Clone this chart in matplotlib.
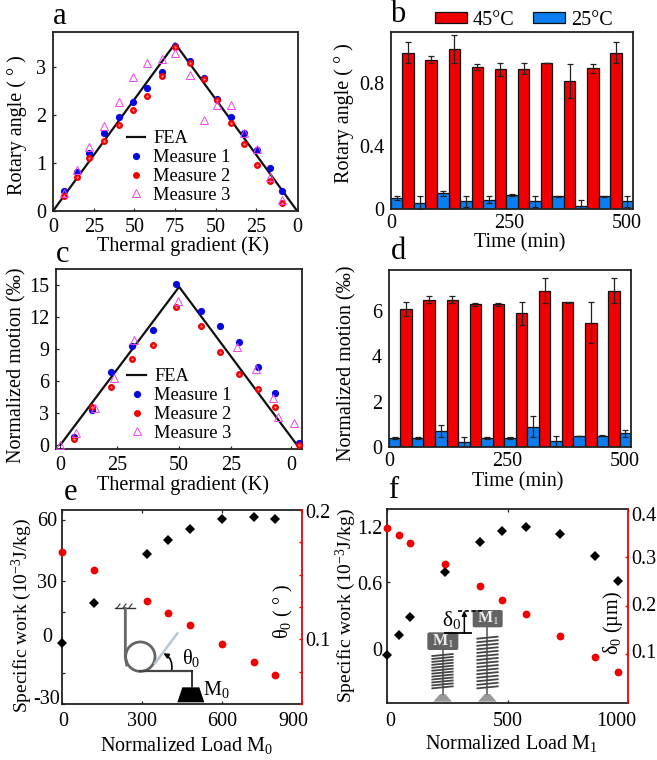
import numpy as np
import matplotlib
matplotlib.use("Agg")
import matplotlib.pyplot as plt
from matplotlib.patches import Polygon, Circle, FancyBboxPatch, FancyArrowPatch

plt.rcParams['font.family'] = ['Liberation Serif', 'DejaVu Serif']
plt.rcParams['mathtext.fontset'] = 'custom'
plt.rcParams['mathtext.rm'] = 'Liberation Serif'
plt.rcParams['mathtext.default'] = 'rm'

W, H = 657, 760
FS = 14.5
FRAME = '#222222'
RED = '#f00000'
BLUE = '#0707e0'
MAG = '#ee44ee'
BAR_BLUE = '#0a7df0'

# ---- panel a
a_fea_x = [0, 75, 150]
a_fea_y = [0, 3.5, 0]
a_x = [6.6, 14.6, 22.4, 31.6, 40.3, 49.3, 57.9, 66.7, 75, 84.1, 92.5, 100.9, 109.3, 117.4, 125.1, 133.1, 140.7]
a_m1 = [.41, .81, 1.21, 1.62, 1.96, 2.28, 2.56, 2.90, 3.45, 3.14, 2.77, 2.34, 1.96, 1.64, 1.28, .89, .41]
a_m2 = [.32, .72, 1.10, 1.47, 1.79, 2.10, 2.41, 2.83, 3.43, 3.10, 2.76, 2.31, 1.83, 1.40, .97, .63, .16]
a_m3 = [.37, .85, 1.33, 1.78, 2.27, 2.80, 3.10, 3.18, 3.31, 2.85, 1.90, 2.22, 2.22, 1.64, 1.29, .71, .23]
a_xticks = [0, 25, 50, 75, 100, 125, 150]
a_xlabels = ['0', '25', '50', '75', '50', '25', '0']

# ---- panels b, d
blue_t = [12, 61, 110, 159, 208, 257, 306, 355, 404, 453, 502]
red_t = [36.5, 85.5, 134.5, 183.5, 232.5, 281.5, 330.5, 379.5, 428.5, 477.5]
b_red = [.99, .945, 1.012, .90, .884, .888, .922, .81, .89, .99]
b_red_err = [.066, .02, .09, .02, .04, .035, 0, .11, .03, .067]
b_blue = [.07, .04, .10, .05, .06, .09, .05, .08, .02, .08, .05]
b_blue_err = [.01, .04, .015, .035, .02, .005, .035, .005, .04, .005, .035]
d_red = [6.1, 6.5, 6.5, 6.3, 6.3, 5.9, 6.9, 6.4, 5.5, 6.9]
d_red_err = [.3, .15, .15, .05, .07, .5, .55, .02, .9, .55]
d_blue = [.4, .4, .7, .2, .4, .4, .9, .25, .5, .5, .6]
d_blue_err = [.03, .03, .25, .25, .03, .03, .45, .22, 0, .02, .15]

# ---- panel c
c_fea_x = [0, 50, 99.6]
c_fea_y = [0, 14.8, 0]
c_x12 = [5.8, 13.5, 21.3, 30.2, 38.9, 48.6, 59.3, 67.3, 75.1, 83, 90.4, 100.6]
c_m1 = [.78, 3.28, 6.81, 9.28, 10.78, 15.09, 12.56, 11.1, 9.66, 7.28, 4.88, .22]
c_m2 = [.56, 3.6, 5.47, 8.06, 9.4, 12.94, 11.09, 8.72, 6.69, 5.28, 3.6, 0]
c_x3 = [0, 6.7, 14.5, 22.5, 31.2, 49.7, 74.3, 82.2, 89.5, 91.4, 98.5]
c_m3 = [0, 1.16, 3.5, 6.3, 9.8, 13.5, 9.2, 7.1, 4.4, 2.6, 2.1]
c_xticks = [0, 24, 50, 72, 97]
c_xlabels = ['0', '25', '50', '25', '0']

# ---- panel e
e_load = [0, 120, 320, 400, 480, 600, 720, 800]
e_work = [0, 19.2, 43.4, 50.2, 55.5, 60.5, 61.7, 60.7]
e_theta = [.1678, .1536, .1299, .1201, .1108, .0966, .0822, .0727]

# ---- panel f
f_load = [0, 48, 94, 239, 383, 477, 574, 716, 860, 956]
f_work = [0, .164, .314, .676, .919, 1.009, 1.045, .987, .805, .608]
f_delta = [.359, .344, .329, .286, .240, .211, .182, .138, .094, .064]

fig = plt.figure(figsize=(W / 100, H / 100), dpi=100)


def axpx(l, t, r, b):
    return fig.add_axes([l / W, 1 - b / H, (r - l) / W, (b - t) / H])


def txt(x, y, s, ha='center', va='center', size=FS, **kw):
    return fig.text(x / W, 1 - y / H, s, ha=ha, va=va, size=size, **kw)


def frame(ax):
    for s in ax.spines.values():
        s.set_linewidth(1.3)
        s.set_color(FRAME)
    ax.tick_params(direction='in', length=2.5, width=0.9, labelsize=FS, color=FRAME, pad=5)


def tri_panel(ax, fx, fy, x1, m1, m2, x3, m3, anchor):
    frame(ax)
    fea, = ax.plot(fx, fy, color='#111111', lw=1.6, zorder=2)
    s1, = ax.plot(x1, m1, 'o', color=BLUE, ms=5.2, mew=0, zorder=3, clip_on=False)
    s2, = ax.plot(x1, m2, 'o', color=RED, ms=5, mew=0, zorder=4, clip_on=False)
    ax.plot(x1, m2, 'o', color='#ff9090', ms=1.6, mew=0, zorder=5, clip_on=False)
    s3, = ax.plot(x3, m3, '^', mfc='none', mec=MAG, ms=6, mew=0.7, zorder=6)
    ax.legend([fea, s1, s2, s3], ['FEA', 'Measure 1', 'Measure 2', 'Measure 3'],
              loc='lower left', bbox_to_anchor=anchor, frameon=False, fontsize=13.2,
              handlelength=1.0, handletextpad=0.45, labelspacing=0.1, borderpad=0, borderaxespad=0)


def bar_panel(ax, red, rerr, blue, berr, ymax, yt, ytl):
    frame(ax)
    ekw = dict(ecolor='#222222', elinewidth=0.9, capsize=2.5, capthick=0.9)
    rb = ax.bar(red_t, red, 24.5, color=RED, edgecolor='#111111', lw=0.9, yerr=rerr, error_kw=ekw, label='45°C')
    bb = ax.bar(blue_t, blue, 24.5, color=BAR_BLUE, edgecolor='#111111', lw=0.9, yerr=berr, error_kw=ekw, label='25°C')
    ax.set_xlim(0, 514)
    ax.set_ylim(0, ymax)
    ax.set_xticks([0, 250, 500])
    ax.set_yticks(yt)
    ax.set_yticklabels(ytl)
    ax.tick_params(axis='both', length=0)
    ax.tick_params(axis='x', pad=3.5)
    return rb, bb


# a
ax = axpx(53, 32, 298, 211)
tri_panel(ax, a_fea_x, a_fea_y, a_x, a_m1, a_m2, a_x, a_m3, (0.3, 0.04))
ax.set_xlim(0, 150.5)
ax.set_ylim(0, 3.74)
ax.set_xticks(a_xticks)
ax.set_xticklabels(a_xlabels)
ax.set_yticks([0, 1, 2, 3])
ax.tick_params(axis='x', pad=5)
txt(17, 125, 'Rotary angle ( ° )', rotation=90)
txt(183, 246, 'Thermal gradient (K)')
txt(60, 17, 'a', size=22)

# b
ax = axpx(391, 32, 633, 209)
rb, bb = bar_panel(ax, b_red, b_red_err, b_blue, b_blue_err, 1.12, [0, .4, .8], ['0', '0.4', '0.8'])
ax.legend([rb, bb], ['45°C', '25°C'], loc='lower left', bbox_to_anchor=(0.18, 1.012), ncol=2, frameon=False,
          fontsize=FS, handlelength=1.6, handleheight=0.45, handletextpad=0.3, columnspacing=0.9,
          borderpad=0, borderaxespad=0)
txt(344, 113, 'Rotary angle ( ° )', rotation=90)
txt(520, 243, 'Time (min)')
txt(398, 15, 'b', size=22)

# c
ax = axpx(56, 269, 302, 449)
tri_panel(ax, c_fea_x, c_fea_y, c_x12, c_m1, c_m2, c_x3, c_m3, (0.29, 0.04))
ax.set_xlim(-1.8, 101.7)
ax.set_ylim(-0.375, 16.47)
ax.set_xticks(c_xticks)
ax.set_xticklabels(c_xlabels)
ax.set_yticks([0, 3, 6, 9, 12, 15])
ax.tick_params(axis='x', pad=5)
txt(17, 365, 'Normalized motion (‰)', rotation=90)
txt(183, 485, 'Thermal gradient (K)')
txt(63, 254, 'c', size=22)

# d
ax = axpx(389, 270, 631, 447)
bar_panel(ax, d_red, d_red_err, d_blue, d_blue_err, 7.82, [0, 2, 4, 6], ['0', '2', '4', '6'])
txt(347, 363, 'Normalized motion (‰)', rotation=90)
txt(518, 482, 'Time (min)')
txt(398, 252, 'd', size=22)


def load_panel(ax, load, work, r, xlim, xt, ylim, yt, ylim2, yt2):
    frame(ax)
    ax.plot(load, work, 'D', color='black', ms=5.6, mew=0, zorder=5, clip_on=False)
    ax.set_xlim(*xlim)
    ax.set_ylim(*ylim)
    ax.set_xticks(xt)
    ax.set_xticklabels([])
    ax.set_yticks(yt)
    ax.set_yticklabels([])
    ax.tick_params(top=True, labelbottom=False)
    ax.spines['right'].set_visible(False)
    ax2 = ax.twinx()
    ax2.plot(load, r, 'o', color=RED, ms=5.6, mew=0, zorder=5, clip_on=False)
    ax2.set_ylim(*ylim2)
    ax2.set_yticks(yt2)
    ax2.set_yticklabels([])
    ax2.tick_params(axis='y', direction='in', length=2.5, width=1, color=RED)
    for k in ('left', 'top', 'bottom'):
        ax2.spines[k].set_visible(False)
    ax2.spines['right'].set_color(RED)
    ax2.spines['right'].set_linewidth(1.3)
    return ax2


# e
ax = axpx(61.7, 510, 301.7, 704)
load_panel(ax, e_load, e_work, e_theta, (0, 900), [0, 300, 600, 900],
           (-30, 64.9), [-30, -15, 0, 15, 30, 45, 60], (.05, .2), [.05, .075, .1, .125, .15, .175, .2])
for s, x, y in zip(['60', '30', '0', '-30'], [57, 57, 52, 60.5], [521.5, 583, 638, 699]):
    txt(x, y, s, ha='right')
for s, y in zip(['0.2', '0.1'], [513, 641]):
    txt(305.5, y, s, ha='left')
for s, x in zip(['0', '300', '600', '900'], [63, 141.7, 221.7, 293]):
    txt(x, 721, s)
txt(186.7, 745, 'Normalized Load M$_0$')
txt(21.7, 615, 'Specific work (10$^{-3}$J/kg)', rotation=90, size=FS - 0.5)
txt(283, 612, 'θ$_0$ ( ° )', rotation=90)
txt(70.7, 493, 'e', size=22)

# f
ax = axpx(387.3, 509.3, 628.3, 703.3)
load_panel(ax, f_load, f_work, f_delta, (0, 1000), [0, 500, 1000],
           (-.395, 1.19), [0, .6], (0, .397), [.1, .2, .3])
for s, y in zip(['1.2', '0.6', '0'], [529, 585, 651.7]):
    txt(382.5, y, s, ha='right')
for s, y in zip(['0.4', '0.3', '0.2', '0.1'], [516.7, 559, 606.7, 653.3]):
    txt(631.7, y, s, ha='left')
for s, x in zip(['0', '500', '1000'], [390.7, 507.7, 616.7]):
    txt(x, 721, s)
txt(511.7, 744, 'Normalized Load M$_1$')
txt(346, 605, 'Specific work (10$^{-3}$J/kg)', rotation=90, size=FS - 0.5)
txt(612.7, 623, 'δ$_0$ (µm)', rotation=90)
txt(393, 490, 'f', size=22)

# ---- schematics, in pixel coordinates on a transparent overlay
ov = fig.add_axes([0, 0, 1, 1], zorder=10)
ov.set_xlim(0, W)
ov.set_ylim(H, 0)
ov.axis('off')


def ex(p):
    return 100 + p / 3


def ey(p):
    return 590 + p / 3


GR = '#666666'
ov.plot([ex(45), ex(105)], [ey(55), ey(55)], color='#333333', lw=1)
for hx in (50, 68, 86):
    ov.plot([ex(hx), ex(hx + 10)], [ey(55), ey(42)], color='#333333', lw=0.8)
ov.plot([ex(232), ex(165)], [ey(130), ey(220)], color='#b8c8d4', lw=1.8)
ov.plot([ex(76), ex(76), ex(80)], [ey(55), ey(200), ey(225)], color=GR, lw=2)
ov.add_patch(Circle((ex(121), ey(200)), 14.7, fc='none', ec=GR, lw=2))
ov.plot([ex(120), ex(275)], [ey(244), ey(244)], color='#444444', lw=1.6)
ov.plot([ex(275), ex(275)], [ey(244), ey(292)], color='#222222', lw=1.3)
ov.add_patch(Polygon([(ex(232), ey(337)), (ex(313), ey(337)), (ex(298), ey(292)), (ex(247), ey(292))], fc='black', ec='none'))
ov.add_patch(FancyArrowPatch((ex(215), ey(240)), (ex(190), ey(190)), connectionstyle='arc3,rad=0.35',
                             arrowstyle='-|>', mutation_scale=7, color='black', lw=1.2, shrinkA=0, shrinkB=0))
ov.text(ex(272), ey(203), 'θ$_0$', size=FS, ha='center', va='center')
ov.text(ex(350), ey(297), 'M$_0$', size=FS, ha='center', va='center')


def fx(p):
    return 420 + p / 3


def fy(p):
    return 590 + p / 3


def spring(x0, x1, y0, y1, n, boxx0, boxx1, boxy0, boxy1, basex):
    ys = np.linspace(y0, y1, n)
    for yy in ys:
        ov.plot([fx(x0), fx(x1)], [fy(yy + 3), fy(yy - 3)], color='#444444', lw=1.3, zorder=3)
    ov.plot([fx(basex), fx(basex)], [fy(boxy1), fy(312)], color='#777777', lw=1.4, zorder=2)
    ov.add_patch(Polygon([(fx(basex - 28), fy(335)), (fx(basex + 28), fy(335)), (fx(basex + 8), fy(312)), (fx(basex - 8), fy(312))],
                         fc='#999999', ec='none'))
    ov.add_patch(FancyBboxPatch((fx(boxx0) + 1, fy(boxy0) + 1), (boxx1 - boxx0) / 3 - 2, (boxy1 - boxy0) / 3 - 2,
                                boxstyle='round,pad=1,rounding_size=2', fc='#626262', ec='none', zorder=4))
    ov.text(fx((boxx0 + boxx1) / 2), fy((boxy0 + boxy1) / 2), 'M$_1$', color='#eeeeee', size=11.5,
            ha='center', va='center', weight='bold', zorder=5)


spring(37, 98, 195, 292, 12, 22, 115, 127, 180, 68)
spring(172, 233, 143, 292, 15, 158, 248, 60, 112, 202)
ov.plot([fx(115), fx(190)], [fy(62), fy(62)], color='black', lw=1.2, ls=(0, (2.5, 1.5)), zorder=6)
ov.plot([fx(75), fx(152)], [fy(128), fy(128)], color='black', lw=1.3, zorder=6)
ov.add_patch(FancyArrowPatch((fx(133), fy(128)), (fx(133), fy(62)), arrowstyle='-|>', mutation_scale=7,
                             color='black', lw=1.1, shrinkA=0, shrinkB=0, zorder=6))
ov.text(fx(95), fy(90), 'δ$_0$', size=FS + 1, ha='center', va='center', zorder=6)

fig.savefig('out.png', dpi=100)
